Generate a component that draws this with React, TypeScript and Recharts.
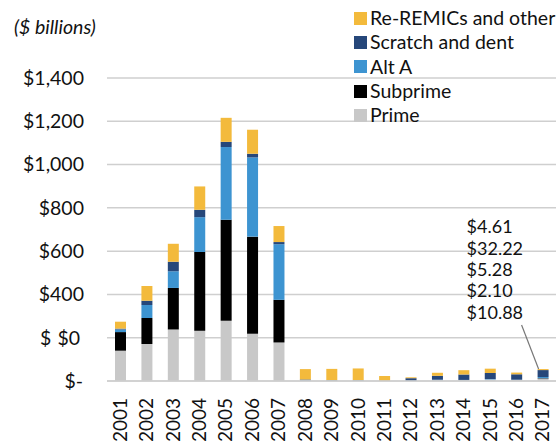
import React from 'react';
import { BarChart, Bar, XAxis, YAxis, CartesianGrid, LabelList } from 'recharts';

const years = ['2001','2002','2003','2004','2005','2006','2007','2008','2009','2010','2011','2012','2013','2014','2015','2016','2017'];
const prime = [140, 171, 238, 232, 278, 218, 178, 3, 2, 2, 1, 1, 4, 4, 7, 5, 10.88];
const subprime = [86, 120, 192, 364, 467, 449, 197, 0, 0, 0, 0, 0, 0, 0, 0, 0, 2.10];
const altA = [12, 60, 77, 161, 336, 366, 257, 1, 1, 1, 0, 1, 2, 1, 2, 1, 5.28];
const scratch = [4, 20, 44, 34, 24, 17, 10, 3, 1, 1, 1, 11, 18, 25, 28, 25, 32.22];
const reRemic = [32, 68, 83, 108, 111, 111, 74, 48, 52, 54, 21, 4, 14, 20, 20, 8, 4.61];

const yTicks = [0, 200, 400, 600, 800, 1000, 1200, 1400];
const yTickLabels = ['$-', '$ $0', '$400', '$600', '$800', '$1,000', '$1,200', '$1,400'];

const seriesNames = ['Prime', 'Subprime', 'Alt A', 'Scratch and dent', 'Re-REMICs and other'];
const seriesKeys = ['prime', 'subprime', 'altA', 'scratch', 'reRemic'];
const seriesColors = ['#C8C8C8', '#000000', '#3D94D1', '#26477A', '#F3BA3C'];

const data = years.map((y, i) => ({
  year: y,
  prime: prime[i],
  subprime: subprime[i],
  altA: altA[i],
  scratch: scratch[i],
  reRemic: reRemic[i],
}));

const FONT = 'Lato, "Open Sans", sans-serif';
const TICK_FS = 19.5;

const YTick = (props: any) => {
  const { x, y, payload } = props;
  const idx = yTicks.indexOf(payload.value);
  const label = idx >= 0 ? yTickLabels[idx] : String(payload.value);
  const parts = label.split(' ');
  if (parts.length > 1) {
    return (
      <g>
        <text x={x - 44} y={y} dy="0.35em" textAnchor="start" fontSize={TICK_FS} fill="#111" fontFamily={FONT}>{parts[0]}</text>
        <text x={x - 4} y={y} dy="0.35em" textAnchor="end" fontSize={TICK_FS} fill="#111" fontFamily={FONT}>{parts[1]}</text>
      </g>
    );
  }
  const dx = payload.value === 0 ? -1 : 0;
  return (
    <text x={x + dx} y={y} dy="0.35em" textAnchor="end" fontSize={TICK_FS} fill="#111" fontFamily={FONT}>{label}</text>
  );
};

const XTick = (props: any) => {
  const { x, y, payload } = props;
  const ty = y + 17;
  return (
    <text x={x} y={ty} dy="0.35em" textAnchor="end" transform={`rotate(-90, ${x}, ${ty})`} fontSize={19} fill="#111" fontFamily={FONT}>
      {payload.value}
    </text>
  );
};

const lastIdx = years.length - 1;
const annotationValues = [reRemic[lastIdx], scratch[lastIdx], altA[lastIdx], subprime[lastIdx], prime[lastIdx]];

const Annotation = (props: any) => {
  const { x, y, index } = props;
  if (index !== lastIdx) return null;
  return (
    <g>
      <line x1={x + 1} y1={y} x2={x - 16} y2={y - 44} stroke="#777" strokeWidth={1.2} />
      {annotationValues.map((v, i) => (
        <text key={i} x={x - 71} y={y - 142 + i * 21.3} dy="0.35em" fontSize={18} fill="#111" fontFamily={FONT}>
          {'$' + v.toFixed(2)}
        </text>
      ))}
    </g>
  );
};

const LegendBox = () => {
  const items = seriesNames.map((n, i) => ({ n, c: seriesColors[i] })).reverse();
  return (
    <div style={{ position: 'absolute', left: 354, top: 6, fontFamily: FONT, fontSize: 19.5, color: '#111', whiteSpace: 'nowrap' }}>
      {items.map((it, i) => (
        <div key={i} style={{ display: 'flex', alignItems: 'center', height: 24.3, lineHeight: '24.3px' }}>
          <span style={{ display: 'inline-block', width: 13, height: 13, background: it.c, marginRight: 3 }} />
          <span>{it.n}</span>
        </div>
      ))}
    </div>
  );
};

export default function App() {
  return (
    <div style={{ position: 'absolute', left: 0, top: 0, width: 558, height: 441, background: '#fff', overflow: 'hidden' }}>
      <div style={{ position: 'absolute', left: 14, top: 15, fontFamily: FONT, fontStyle: 'italic', fontSize: 19.5, color: '#111' }}>
        ($ billions)
      </div>
      <BarChart width={558} height={441} data={data} margin={{ top: 78, right: 2, bottom: 0, left: 0 }} barSize={11}>
        <CartesianGrid horizontal={true} vertical={false} stroke="#CFCFCF" strokeWidth={1.5} />
        <XAxis dataKey="year" interval={0} tickLine={false} axisLine={{ stroke: '#CFCFCF', strokeWidth: 1.5 }} tickSize={0} tickMargin={0} height={60} tick={<XTick />} />
        <YAxis domain={[0, 1400]} ticks={yTicks} width={107} tickLine={false} axisLine={false} tickSize={0} tickMargin={23} tick={<YTick />} interval={0} />
        {seriesKeys.map((k, i) => (
          <Bar key={k} dataKey={k} name={seriesNames[i]} stackId="a" fill={seriesColors[i]} isAnimationActive={false}>
            {k === 'reRemic' ? <LabelList dataKey={k} content={<Annotation />} /> : null}
          </Bar>
        ))}
      </BarChart>
      <LegendBox />
    </div>
  );
}
